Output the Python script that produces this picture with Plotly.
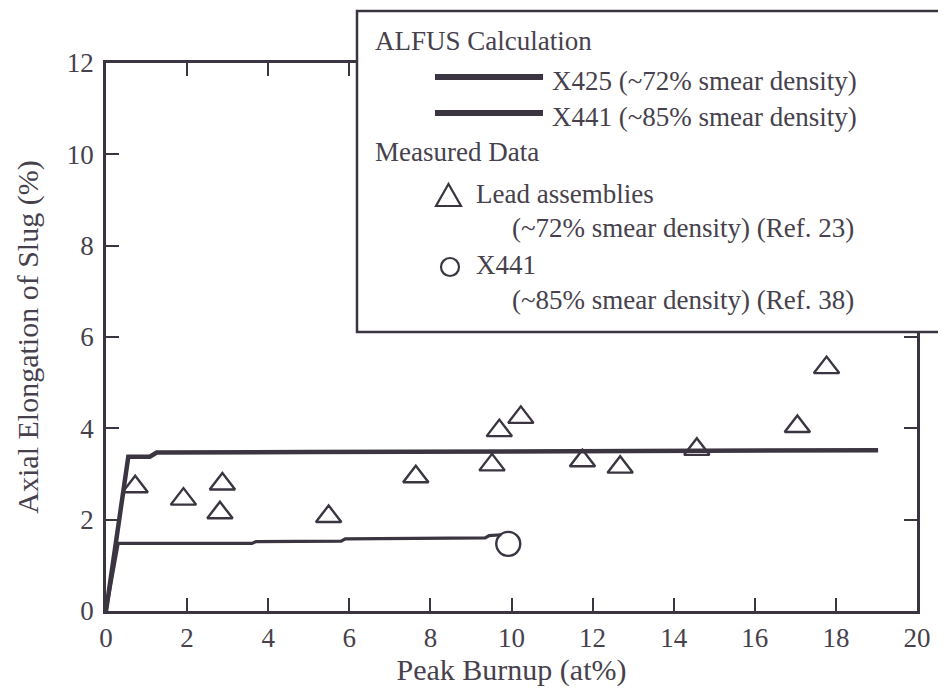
import plotly.graph_objects as go

# ---- data ----
x425_burnup = [0.0, 0.55, 1.08, 1.25, 5.0, 10.0, 15.0, 19.04]
x425_elong = [0.0, 3.38, 3.38, 3.47, 3.48, 3.50, 3.51, 3.52]

x441_burnup = [0.0, 0.30, 3.60, 3.70, 5.80, 5.90, 9.35, 9.45, 9.75]
x441_elong = [0.0, 1.48, 1.48, 1.52, 1.53, 1.58, 1.60, 1.65, 1.67]

lead_burnup = [0.72, 1.91, 2.87, 2.81, 5.49, 7.64, 9.52, 9.70, 10.23, 11.75, 12.68, 14.57, 17.05, 17.77]
lead_elong = [2.72, 2.45, 2.78, 2.15, 2.07, 2.94, 3.20, 3.95, 4.24, 3.29, 3.15, 3.54, 4.04, 5.33]

x441_meas_burnup = [9.92]
x441_meas_elong = [1.47]

x_ticks = [0, 2, 4, 6, 8, 10, 12, 14, 16, 18, 20]
y_ticks = [0, 2, 4, 6, 8, 10, 12]

INK = "#3a3540"
TXT = "#46414c"
FONT = "Liberation Serif, Times New Roman, serif"

W, H = 946, 694
OFF = 8  # page body margin offset
# plot area in window pixels: left 106, right 917, top 63, bottom 611
L = 106 - OFF
T = 63 - OFF
R = W - (917 - OFF)
B = H - (611 - OFF)
PW, PH = W - L - R, H - T - B


def px(xp):
    return (xp - OFF - L) / PW


def py(yp):
    return (H - B - (yp - OFF)) / PH


fig = go.Figure()
fig.add_trace(go.Scatter(x=x425_burnup, y=x425_elong, mode="lines",
                         line=dict(color=INK, width=4.5), showlegend=False))
fig.add_trace(go.Scatter(x=x441_burnup, y=x441_elong, mode="lines",
                         line=dict(color=INK, width=3.2), showlegend=False))
fig.add_trace(go.Scatter(x=lead_burnup, y=lead_elong, mode="markers",
                         marker=dict(symbol="triangle-up-open", size=22, color=INK,
                                     line=dict(color=INK, width=2.4)),
                         showlegend=False))
fig.add_trace(go.Scatter(x=x441_meas_burnup, y=x441_meas_elong, mode="markers",
                         marker=dict(symbol="circle-open", size=24, color=INK,
                                     line=dict(color=INK, width=2.4)),
                         showlegend=False))

axis_common = dict(showline=True, linecolor=INK, linewidth=2.5, mirror="ticks",
                   ticks="inside", ticklen=13, tickwidth=2, tickcolor=INK,
                   showgrid=False, zeroline=False,
                   tickfont=dict(family=FONT, size=27, color=TXT))

fig.update_xaxes(range=[0, 20], tickvals=x_ticks, ticklabelstandoff=1,
                 title=dict(text="Peak Burnup (at%)", standoff=3,
                            font=dict(family=FONT, size=30, color=TXT)),
                 **axis_common)
fig.update_yaxes(range=[0, 12], tickvals=y_ticks, ticklabelstandoff=4,
                 title=dict(text="Axial Elongation of Slug (%)", standoff=20,
                            font=dict(family=FONT, size=30, color=TXT)),
                 **axis_common)

# ---- legend box (drawn manually) ----
shapes = [
    dict(type="rect", xref="paper", yref="paper",
         x0=px(357), x1=px(970), y0=py(332), y1=py(11),
         line=dict(color=INK, width=2.5), fillcolor="white", layer="above"),
    dict(type="line", xref="paper", yref="paper",
         x0=px(435), x1=px(543), y0=py(77), y1=py(77),
         line=dict(color=INK, width=6), layer="above"),
    dict(type="line", xref="paper", yref="paper",
         x0=px(435), x1=px(543), y0=py(113), y1=py(113),
         line=dict(color=INK, width=6), layer="above"),
    dict(type="path", xref="paper", yref="paper",
         path=f"M {px(436)},{py(206)} L {px(461)},{py(206)} L {px(448.5)},{py(184)} Z",
         line=dict(color=INK, width=2.2), layer="above"),
    dict(type="circle", xref="paper", yref="paper",
         x0=px(441), x1=px(459), y0=py(276), y1=py(258),
         line=dict(color=INK, width=2.2), layer="above"),
]

legend_texts = [
    ("ALFUS Calculation", 373, 41),
    ("X425 (~72% smear density)", 550, 81),
    ("X441 (~85% smear density)", 550, 117),
    ("Measured Data", 373, 152),
    ("Lead assemblies", 474, 194),
    ("(~72% smear density) (Ref. 23)", 510, 228),
    ("X441", 474, 265),
    ("(~85% smear density) (Ref. 38)", 510, 300),
]
annotations = [
    dict(text=t, x=px(xp), y=py(yp), xref="paper", yref="paper",
         xanchor="left", yanchor="middle", showarrow=False,
         font=dict(family=FONT, size=27, color=TXT))
    for t, xp, yp in legend_texts
]

fig.update_layout(width=W, height=H,
                  margin=dict(l=L, r=R, t=T, b=B, autoexpand=False),
                  paper_bgcolor="white", plot_bgcolor="white",
                  shapes=shapes, annotations=annotations, showlegend=False)

fig.write_html("out.html")
